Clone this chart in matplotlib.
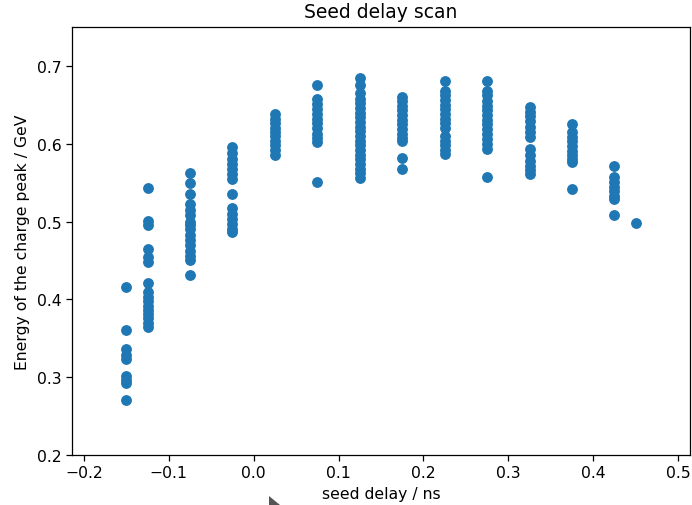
import matplotlib
matplotlib.use("Agg")
import matplotlib.pyplot as plt
from matplotlib.patches import Polygon

# Seed delay settings (ns) and the measured charge-peak energies (GeV) at each
delays = [-0.15, -0.125, -0.075, -0.025, 0.025, 0.075, 0.125,
          0.175, 0.225, 0.275, 0.325, 0.375, 0.425, 0.45]

energies = [
    [0.416, 0.361, 0.336, 0.328, 0.323, 0.301, 0.297, 0.292, 0.271],
    [0.543, 0.501, 0.495, 0.465, 0.454, 0.448, 0.421, 0.41, 0.403, 0.398,
     0.392, 0.386, 0.381, 0.376, 0.37, 0.364],
    [0.562, 0.55, 0.535, 0.522, 0.515, 0.508, 0.5, 0.495, 0.49, 0.483,
     0.476, 0.47, 0.462, 0.456, 0.45, 0.431],
    [0.596, 0.588, 0.581, 0.574, 0.567, 0.561, 0.555, 0.535, 0.518, 0.51,
     0.503, 0.497, 0.491, 0.487],
    [0.638, 0.632, 0.626, 0.62, 0.615, 0.61, 0.604, 0.598, 0.592, 0.585],
    [0.675, 0.657, 0.651, 0.645, 0.638, 0.632, 0.626, 0.62, 0.613, 0.607,
     0.602, 0.551],
    [0.684, 0.675, 0.665, 0.658, 0.652, 0.646, 0.64, 0.634, 0.628, 0.622,
     0.616, 0.61, 0.604, 0.598, 0.592, 0.586, 0.58, 0.574, 0.568, 0.562, 0.556],
    [0.66, 0.655, 0.649, 0.643, 0.637, 0.631, 0.625, 0.619, 0.613, 0.607,
     0.604, 0.582, 0.567],
    [0.681, 0.668, 0.662, 0.656, 0.65, 0.644, 0.638, 0.632, 0.626, 0.62,
     0.61, 0.604, 0.598, 0.592, 0.587],
    [0.68, 0.668, 0.662, 0.655, 0.649, 0.643, 0.637, 0.631, 0.625, 0.619,
     0.613, 0.606, 0.6, 0.593, 0.557],
    [0.647, 0.641, 0.635, 0.629, 0.622, 0.615, 0.609, 0.593, 0.585, 0.578,
     0.571, 0.566, 0.561],
    [0.625, 0.615, 0.609, 0.603, 0.597, 0.591, 0.585, 0.58, 0.576, 0.542],
    [0.572, 0.557, 0.551, 0.545, 0.539, 0.533, 0.529, 0.509],
    [0.498],
]

xs = [d for d, col in zip(delays, energies) for _ in col]
ys = [e for col in energies for e in col]

W, H = 692, 506
fig = plt.figure(figsize=(W / 100, H / 100), dpi=100)
ax = fig.add_axes([72 / W, (H - 456) / H, (690 - 72) / W, (456 - 28) / H])

ax.scatter(xs, ys, s=46, color="#1f77b4", zorder=3)

ax.set_xlim(-0.2141, 0.5141)
ax.set_ylim(0.2, 0.75)
ax.set_xticks([-0.2, -0.1, 0.0, 0.1, 0.2, 0.3, 0.4, 0.5])
ax.set_yticks([0.2, 0.3, 0.4, 0.5, 0.6, 0.7])
ax.tick_params(labelsize=11.25, length=4, width=0.9)
for s in ax.spines.values():
    s.set_linewidth(0.9)

ax.set_title("Seed delay scan", fontsize=13.5, pad=7)
ax.set_xlabel("seed delay / ns", fontsize=11.25, labelpad=4)
ax.set_ylabel("Energy of the charge peak / GeV", fontsize=11.25, labelpad=5)

# mouse pointer sitting below the axis
fig.patches.append(Polygon(
    [(269 / W, 1 - 497 / H), (269 / W, 0.0), (276 / W, 0.0), (280 / W, 1 - 506 / H)],
    closed=True, transform=fig.transFigure, facecolor="#555555", edgecolor="none"))

fig.savefig("out.png", dpi=100)
